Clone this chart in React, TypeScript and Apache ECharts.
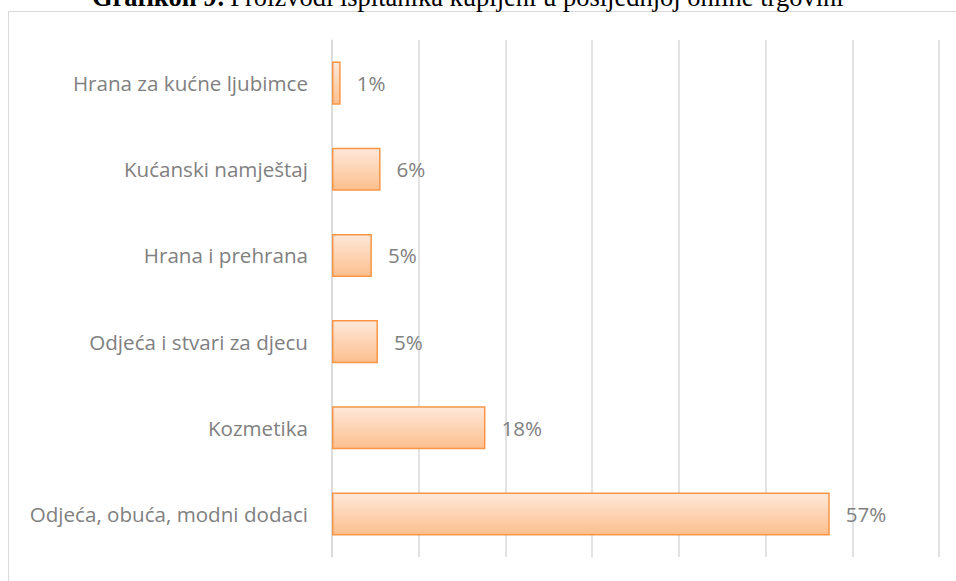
import React, { useEffect, useRef } from "react";
import * as echarts from "echarts";

const categories = [
  "Odjeća, obuća, modni dodaci",
  "Kozmetika",
  "Odjeća i stvari za djecu",
  "Hrana i prehrana",
  "Kućanski namještaj",
  "Hrana za kućne ljubimce",
];
const values = [57.4, 17.7, 5.3, 4.6, 5.6, 1.0];
const valueLabels = ["57%", "18%", "5%", "5%", "6%", "1%"];
const xTicks = [0, 10, 20, 30, 40, 50, 60, 70];

export default function App() {
  const ref = useRef<HTMLDivElement>(null);
  useEffect(() => {
    if (!ref.current) return;
    const chart = echarts.init(ref.current, undefined, { renderer: "svg" });
    chart.setOption({
      animation: false,
      backgroundColor: "#ffffff",
      title: {
        left: 92,
        top: -17,
        padding: 0,
        text: "{b|Grafikon 9:} {n|Proizvodi ispitanika kupljeni u posljednjoj online trgovini}",
        textStyle: {
          rich: {
            b: { fontFamily: "Liberation Serif", fontWeight: "bold", fontSize: 26.5, color: "#000" },
            n: { fontFamily: "Liberation Serif", fontWeight: "normal", fontSize: 26.5, color: "#000" },
          },
        },
      },
      graphic: [
        {
          type: "rect",
          shape: { x: 8.5, y: 11.5, width: 1200, height: 1200 },
          style: { fill: "none", stroke: "#d9d9d9", lineWidth: 1 },
          silent: true,
          z: -1,
        },
      ],
      grid: { left: 332, right: 17, top: 40, bottom: 24, containLabel: false },
      xAxis: {
        type: "value",
        min: xTicks[0],
        max: xTicks[xTicks.length - 1],
        interval: 10,
        axisLabel: { show: false },
        axisLine: { show: false },
        axisTick: { show: false },
        splitLine: { show: true, lineStyle: { color: "#d9d9d9", width: 1.5 } },
      },
      yAxis: {
        type: "category",
        data: categories,
        axisLine: { show: true, lineStyle: { color: "#d9d9d9", width: 1.5 } },
        axisTick: { show: false },
        axisLabel: {
          color: "#808080",
          fontFamily: "Open Sans",
          fontSize: 20.6,
          margin: 24,
        },
      },
      series: [
        {
          type: "bar",
          data: values,
          barCategoryGap: "50%",
          itemStyle: {
            color: new echarts.graphic.LinearGradient(0, 0, 0, 1, [
              { offset: 0, color: "#fee8da" },
              { offset: 1, color: "#fcbf8e" },
            ]),
            borderColor: "#f79646",
            borderWidth: 1.5,
          },
          label: {
            show: true,
            position: "right",
            distance: 16,
            color: "#808080",
            fontFamily: "Open Sans",
            fontSize: 20.6,
            formatter: (p: any) => valueLabels[p.dataIndex],
          },
        },
      ],
    });
    return () => chart.dispose();
  }, []);
  return (
    <div
      ref={ref}
      style={{ position: "fixed", left: 0, top: 0, width: 956, height: 581 }}
    />
  );
}
